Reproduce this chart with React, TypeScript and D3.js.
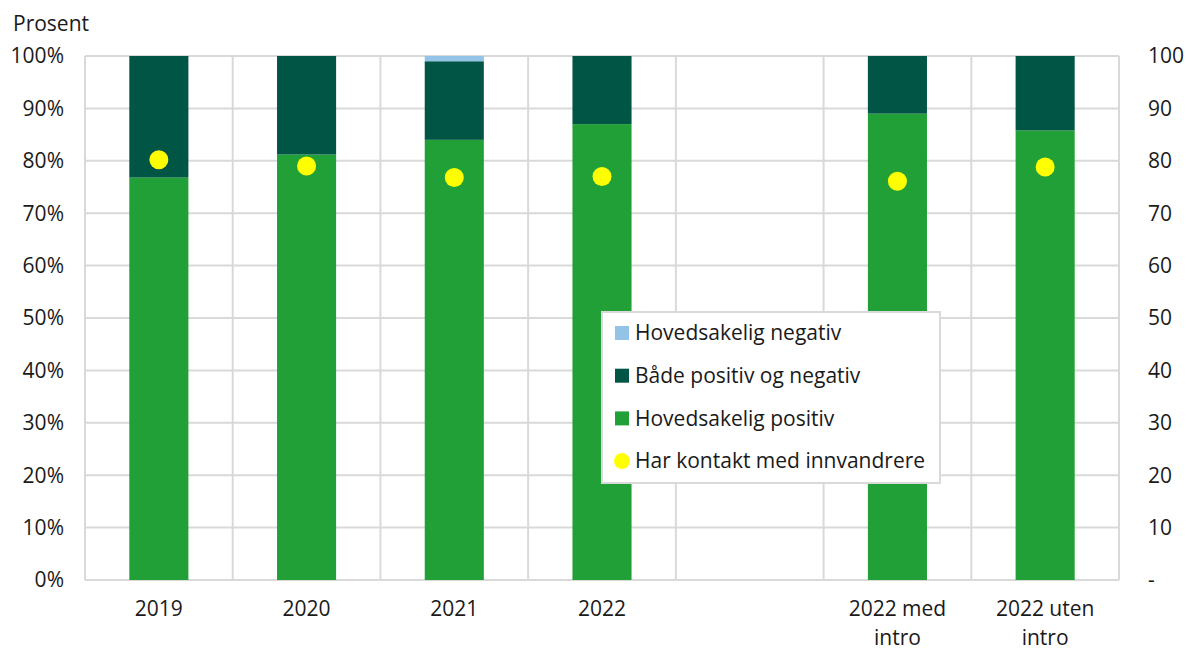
import React from "react";
import * as d3 from "d3";

const categories = ["2019", "2020", "2021", "2022", "", "2022 med\nintro", "2022 uten\nintro"];
const positive = [76.8, 81.2, 84.0, 87.0, null, 89.0, 85.8];
const mixed = [23.2, 18.8, 15.0, 13.0, null, 11.0, 14.2];
const negative = [0, 0, 1.0, 0, null, 0, 0];
const contact = [80.2, 79.0, 76.8, 77.0, null, 76.1, 78.8];
const leftTicks = [0, 10, 20, 30, 40, 50, 60, 70, 80, 90, 100];
const rightTickLabels = ["-", "10", "20", "30", "40", "50", "60", "70", "80", "90", "100"];
const legendLabels = ["Hovedsakelig negativ", "Både positiv og negativ", "Hovedsakelig positiv", "Har kontakt med innvandrere"];

const COLORS = { negative: "#93c4e8", mixed: "#005544", positive: "#21a038", dot: "#ffff00" };
const W = 1186, H = 648;
const M = { left: 85, right: 1119, top: 56, bottom: 580 };
const FONT = "'Open Sans', sans-serif";
const TXT = "#1a1a1a";
const FS = 21;

export default function App() {
  const x = d3.scaleBand<number>().domain(d3.range(categories.length)).range([M.left, M.right]).padding(0);
  const y = d3.scaleLinear().domain([0, 100]).range([M.bottom, M.top]);
  const bw = x.bandwidth() * 0.4;
  const grid = "#d9d9d9";

  return (
    <svg width={W} height={H} style={{ position: "absolute", left: 0, top: 0, fontFamily: FONT }}>
      <rect width={W} height={H} fill="#fff" />
      {leftTicks.map((t) => (
        <line key={"h" + t} x1={M.left} x2={M.right} y1={y(t)} y2={y(t)} stroke={grid} strokeWidth={2} />
      ))}
      {d3.range(categories.length + 1).map((i) => {
        const xx = i < categories.length ? x(i)! : M.right;
        return <line key={"v" + i} x1={xx} x2={xx} y1={M.top} y2={M.bottom} stroke={grid} strokeWidth={2} />;
      })}
      {categories.map((c, i) => {
        if (positive[i] == null) return null;
        const cx = x(i)! + x.bandwidth() / 2;
        const p = positive[i] as number, m = mixed[i] as number, n = negative[i] as number;
        return (
          <g key={"b" + i}>
            <rect x={cx - bw / 2} width={bw} y={y(p)} height={y(0) - y(p)} fill={COLORS.positive} />
            <rect x={cx - bw / 2} width={bw} y={y(p + m)} height={y(p) - y(p + m)} fill={COLORS.mixed} />
            {n > 0 && <rect x={cx - bw / 2} width={bw} y={y(p + m + n)} height={y(p + m) - y(p + m + n)} fill={COLORS.negative} />}
          </g>
        );
      })}
      {contact.map((v, i) =>
        v == null ? null : <circle key={"d" + i} cx={x(i)! + x.bandwidth() / 2} cy={y(v)} r={9.5} fill={COLORS.dot} />
      )}
      {leftTicks.map((t) => (
        <text key={"l" + t} x={64} y={y(t)} dy="0.35em" textAnchor="end" fontSize={FS} fill={TXT}>{t}%</text>
      ))}
      {leftTicks.map((t, i) => (
        <text key={"r" + t} x={1148} y={y(t)} dy="0.35em" textAnchor="start" fontSize={FS} fill={TXT}>{rightTickLabels[i]}</text>
      ))}
      <text x={13} y={31} fontSize={FS} fill={TXT}>Prosent</text>
      {categories.map((c, i) => {
        const lines = c.split("\n");
        return (
          <text key={"c" + i} x={x(i)! + x.bandwidth() / 2} y={616} textAnchor="middle" fontSize={FS} fill={TXT}>
            {lines.map((ln, j) => (
              <tspan key={j} x={x(i)! + x.bandwidth() / 2} dy={j === 0 ? 0 : 29}>{ln}</tspan>
            ))}
          </text>
        );
      })}
      <g>
        <rect x={602} y={312} width={338} height={171} fill="#fff" stroke="#d9d9d9" strokeWidth={2} />
        {legendLabels.map((l, i) => {
          const ly = 333 + i * 42.7;
          const col = [COLORS.negative, COLORS.mixed, COLORS.positive, COLORS.dot][i];
          return (
            <g key={"lg" + i}>
              {i < 3 ? (
                <rect x={615} y={ly - 7} width={14} height={14} fill={col} />
              ) : (
                <circle cx={622} cy={ly} r={8} fill={col} />
              )}
              <text x={635} y={ly} dy="0.35em" fontSize={FS} fill={TXT}>{l}</text>
            </g>
          );
        })}
      </g>
    </svg>
  );
}
